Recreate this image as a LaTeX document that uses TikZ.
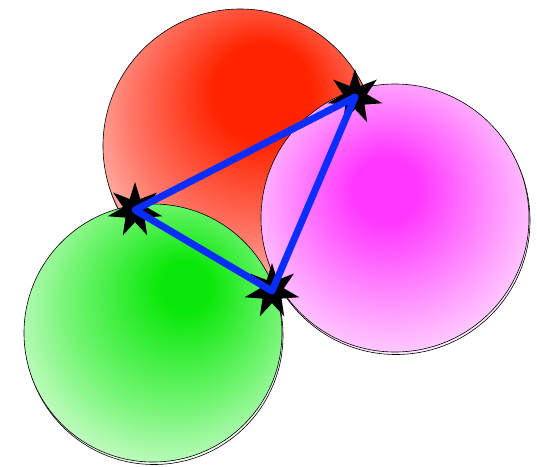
\documentclass[tikz,border=0pt]{standalone}
\usetikzlibrary{shapes.geometric}

\definecolor{redc}{RGB}{255,36,0}
\definecolor{redm}{RGB}{255,120,105}
\definecolor{redl}{RGB}{255,215,210}
\definecolor{greenc}{RGB}{10,232,10}
\definecolor{greenm}{RGB}{120,245,120}
\definecolor{greenl}{RGB}{238,255,238}
\definecolor{pinkc}{RGB}{255,55,255}
\definecolor{pinkm}{RGB}{255,150,255}
\definecolor{pinkl}{RGB}{255,235,255}
\definecolor{edgeblue}{RGB}{10,45,255}

\pgfdeclareradialshading{redglow}{\pgfpoint{5bp}{12bp}}{color(0bp)=(redc); color(9bp)=(redc); color(23bp)=(redm); color(35bp)=(redl); color(50bp)=(redl)}
\pgfdeclareradialshading{greenglow}{\pgfpoint{7bp}{10bp}}{color(0bp)=(greenc); color(5bp)=(greenc); color(21bp)=(greenm); color(36bp)=(greenl); color(50bp)=(greenl)}
\pgfdeclareradialshading{pinkglow}{\pgfpoint{-2bp}{6bp}}{color(0bp)=(pinkc); color(6bp)=(pinkc); color(20bp)=(pinkm); color(33bp)=(pinkl); color(50bp)=(pinkl)}

\tikzset{
  disc/.style={draw=black, line width=0.6pt},
  cornerstar/.style={star, star points=7, star point ratio=2.3, fill=black,
    minimum size=56pt, inner sep=0pt},
  side/.style={draw=edgeblue, line width=7pt, line join=round}
}

\begin{document}
\begin{tikzpicture}[x=1pt,y=-1pt]
    \useasboundingbox (0,0) rectangle (537,466);
    % Discs with a thin shadow ring
    \foreach \cx/\cy/\r/\sh/\lt in {240/146/137/redglow/redl, 395/218/134/pinkglow/pinkl, 153/333/129/greenglow/greenl} {
        \draw[disc, fill=\lt] (\cx+1,\cy+2.5) circle[radius=\r pt];
        \shade[disc, shading=\sh] (\cx,\cy) circle[radius=\r pt];
    }
    % Corners
    \node[cornerstar] (top) at (355,97) {};
    \node[cornerstar] (left) at (135,210) {};
    \node[cornerstar] (low) at (272,291) {};
    % Triangle
    \draw[side] (left.center) -- (top.center) -- (low.center) -- cycle;
\end{tikzpicture}
\end{document}
